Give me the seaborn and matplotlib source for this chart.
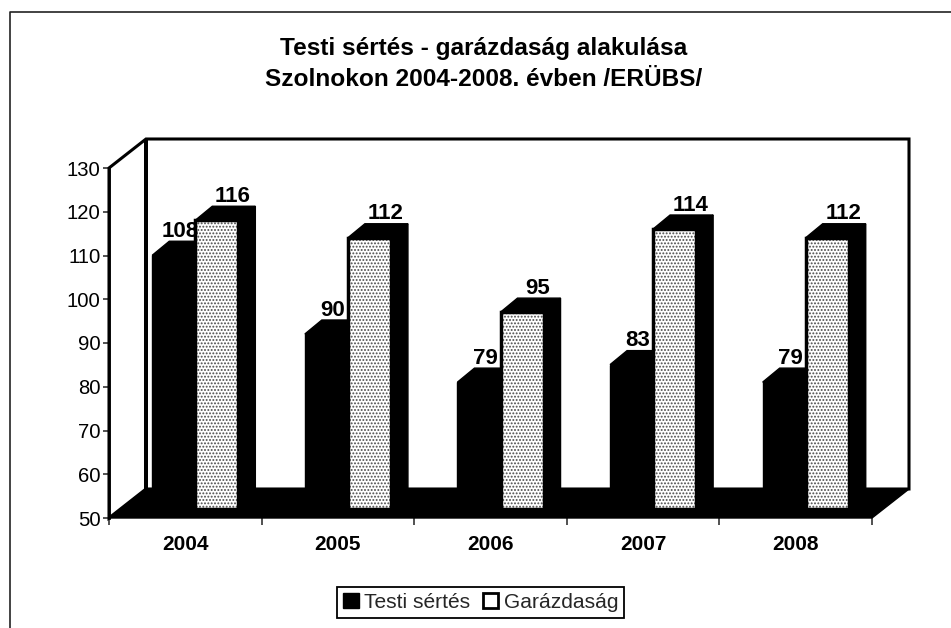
# -*- coding: utf-8 -*-
import pandas as pd
import matplotlib
matplotlib.use('Agg')
import matplotlib.pyplot as plt
import seaborn as sns
from matplotlib.lines import Line2D
from matplotlib.patches import Polygon, Rectangle
from matplotlib.ticker import FixedLocator

years = ['2004', '2005', '2006', '2007', '2008']
testi = [108, 90, 79, 83, 79]
garazda = [116, 112, 95, 114, 112]
series_names = ['Testi sértés', 'Garázdaság']
title = 'Testi sértés - garázdaság alakulása\nSzolnokon 2004-2008. évben /ERÜBS/'

sns.set_theme(style='white')
plt.rcParams['font.family'] = ['Liberation Sans', 'DejaVu Sans']
plt.rcParams['hatch.linewidth'] = 0.9

W, H = 951, 628
fig = plt.figure(figsize=(W / 100, H / 100), dpi=100)
L, R, T, B = 109, 872, 168, 518
ax = fig.add_axes([L / W, 1 - B / H, (R - L) / W, (B - T) / H])

df = pd.DataFrame({
    'ev': years * 2,
    'eset': testi + garazda,
    'sorozat': [series_names[0]] * 5 + [series_names[1]] * 5,
})
sns.barplot(data=df, x='ev', y='eset', hue='sorozat', palette=['black', 'white'],
            width=0.564, gap=0, legend=False, ax=ax, zorder=3)
ax.set_ylim(50, 130)
ax.set_xlim(-0.5, 4.5)
ax.set_xlabel('')
ax.set_ylabel('')

# pixels to data units, for the fake 3d depth
px_x = 5 / (R - L)
px_y = 80 / (B - T)


def poly(pts, **kw):
    ax.add_patch(Polygon(pts, closed=True, clip_on=False, **kw))


wall_dx, wall_dy = 37 * px_x, 29 * px_y
x0, x1 = -0.5, 4.5
# floor and walls
poly([(x0, 50), (x0 + wall_dx, 50 + wall_dy), (x1 + wall_dx, 50 + wall_dy), (x1, 50)],
     facecolor='black', edgecolor='black', lw=1, zorder=2)
poly([(x0, 50), (x0, 130), (x0 + wall_dx, 130 + wall_dy), (x1 + wall_dx, 130 + wall_dy),
      (x1 + wall_dx, 50 + wall_dy), (x0 + wall_dx, 50 + wall_dy), (x0 + wall_dx, 130 + wall_dy),
      (x0 + wall_dx, 50 + wall_dy)],
     fill=False, edgecolor='black', lw=2.2, joinstyle='miter', zorder=1)

# move the bars back onto the floor and give them depth
shift_x, shift_y = 10 * px_x, 9 * px_y
depth_x, depth_y = 17 * px_x, 14 * px_y
label_off = {'black': (6, 24), 'white': (16, 24)}
n_cat = len(years)
for i, bar in enumerate(ax.patches[:2 * n_cat]):
    is_black = i < n_cat
    val = bar.get_height()
    xl = bar.get_x() + shift_x
    w = bar.get_width()
    yb = 50 + shift_y
    yt = yb + val - 50
    z = 3 if is_black else 5
    bar.set_x(xl)
    bar.set_y(yb)
    bar.set_height(val - 50)
    bar.set_zorder(z + 0.5)
    # side and top faces
    poly([(xl + w, yb), (xl + w + depth_x, yb + depth_y), (xl + w + depth_x, yt + depth_y), (xl + w, yt)],
         facecolor='black', edgecolor='black', lw=1, zorder=z)
    poly([(xl, yt), (xl + depth_x, yt + depth_y), (xl + w + depth_x, yt + depth_y), (xl + w, yt)],
         facecolor='black', edgecolor='black', lw=1, zorder=z)
    if is_black:
        bar.set_edgecolor('black')
    else:
        bar.set_facecolor('white')
        bar.set_edgecolor('#4a4a4a')
        bar.set_linewidth(0)
        bar.set_hatch('.....')
        ax.add_patch(Rectangle((xl, yb), w, val - 50, fill=False, edgecolor='black',
                               lw=2.5, zorder=z + 1))
    off = label_off['black' if is_black else 'white']
    ax.annotate(str(int(val)), (xl + w / 2, yt), xytext=off, textcoords='offset pixels',
                ha='center', va='center', fontsize=16, fontweight='bold', color='black',
                zorder=8, annotation_clip=False)

# axes
sns.despine(ax=ax, top=True, right=True, bottom=True, left=False)
ax.spines['left'].set_linewidth(2)
ax.spines['left'].set_color('black')
ax.set_yticks(range(50, 131, 10))
ax.tick_params(axis='y', which='major', length=4, width=1.2, left=True, color='#333333',
               labelsize=14.6, pad=2, labelcolor='black')
ax.tick_params(axis='x', which='major', length=0, labelsize=15, pad=12, labelcolor='black')
for lab in ax.get_xticklabels():
    lab.set_fontweight('bold')
ax.xaxis.set_minor_locator(FixedLocator([-0.5, 0.5, 1.5, 2.5, 3.5, 4.5]))
ax.tick_params(axis='x', which='minor', bottom=True, length=5, width=1.2, color='#333333')
ax.patch.set_visible(False)

fig.text(484 / W, 1 - 64 / H, title, ha='center', va='center', fontsize=17.6, fontweight='bold',
         color='black', linespacing=1.45)

# outer chart frame, open on the right and at the bottom
fig.add_artist(Line2D([10 / W, 10 / W, 1], [0, 1 - 12 / H, 1 - 12 / H], color='#222222', lw=1.2))

handles = [Rectangle((0, 0), 1, 1, facecolor='black', edgecolor='black'),
           Rectangle((0, 0), 1, 1, facecolor='white', edgecolor='black', lw=2)]
leg = fig.legend(handles, series_names, ncol=2, loc='center',
                 bbox_to_anchor=(480.5 / W, 1 - 602.5 / H), fontsize=15.1, frameon=True,
                 fancybox=False, edgecolor='black', framealpha=1,
                 handlelength=0.75, handleheight=0.75, handletextpad=0.25,
                 columnspacing=0.6, borderpad=0.3, borderaxespad=0)
leg.get_frame().set_linewidth(1.3)

fig.savefig('out.png', dpi=100, facecolor='white')
